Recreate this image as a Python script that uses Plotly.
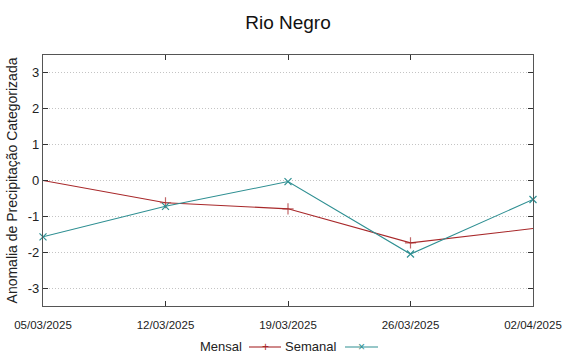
import plotly.graph_objects as go

dates = ["2025-03-05", "2025-03-12", "2025-03-19", "2025-03-26", "2025-04-02"]
mensal = [0.0, -0.62, -0.79, -1.74, -1.34]
semanal = [-1.57, -0.72, -0.03, -2.05, -0.53]
x_ticklabels = ["05/03/2025", "12/03/2025", "19/03/2025", "26/03/2025", "02/04/2025"]
y_tickvals = [-3, -2, -1, 0, 1, 2, 3]
y_ticktext = ["-3", "-2", "-1", "0", "1", "2", "3"]

RED = "#a8282a"
TEAL = "#2e8f92"
FONT = "Liberation Sans, Arial, sans-serif"

W, H = 567, 354
L, R, T, B = 43, 34, 55, 48
pw, ph = W - L - R, H - T - B
def px(x):
    return (x - L) / pw
def py(y):
    return (H - B - y) / ph

LEG_Y = 346

fig = go.Figure()
fig.add_trace(go.Scatter(
    x=dates, y=mensal, mode="lines+markers", name="Mensal",
    line=dict(color=RED, width=1.1),
    marker=dict(symbol="cross-thin", size=[0, 8, 8, 8, 0],
                line=dict(color=RED, width=1.2), color=RED),
    showlegend=False, cliponaxis=True, hoverinfo="skip"))
fig.add_trace(go.Scatter(
    x=dates, y=semanal, mode="lines+markers", name="Semanal",
    line=dict(color=TEAL, width=1.1),
    marker=dict(symbol="x-thin", size=7, line=dict(color=TEAL, width=1.2), color=TEAL),
    showlegend=False, cliponaxis=False, hoverinfo="skip"))

annotations = []
annotations.append(dict(x=px(244), y=py(LEG_Y), xref="paper", yref="paper", text="Mensal",
                        showarrow=False, xanchor="right", yanchor="middle",
                        font=dict(family=FONT, size=13, color="#222")))
annotations.append(dict(x=px(338), y=py(LEG_Y), xref="paper", yref="paper", text="Semanal",
                        showarrow=False, xanchor="right", yanchor="middle",
                        font=dict(family=FONT, size=13, color="#222")))
annotations.append(dict(x=px(265), y=py(LEG_Y + 1), xref="paper", yref="paper", text="+",
                        showarrow=False, xanchor="center", yanchor="middle",
                        font=dict(family=FONT, size=12, color=RED)))
annotations.append(dict(x=px(361), y=py(LEG_Y + 1), xref="paper", yref="paper", text="×",
                        showarrow=False, xanchor="center", yanchor="middle",
                        font=dict(family=FONT, size=12, color=TEAL)))

shapes = []
for (x0, x1, c) in [(249, 281, RED), (345, 378, TEAL)]:
    shapes.append(dict(type="line", xref="paper", yref="paper",
                       x0=px(x0), x1=px(x1), y0=py(LEG_Y + 1), y1=py(LEG_Y + 1),
                       line=dict(color=c, width=1.1)))

fig.update_layout(
    width=W, height=H,
    margin=dict(l=L, r=R, t=T, b=B, autoexpand=False),
    paper_bgcolor="white", plot_bgcolor="white",
    shapes=shapes, annotations=annotations,
    title=dict(text="Rio Negro", x=0.5, xref="paper", y=1 - 22 / H, yref="container",
               yanchor="middle",
               font=dict(family=FONT, size=19, color="#111")),
    font=dict(family=FONT, color="#222"),
    xaxis=dict(type="date", range=[dates[0], dates[-1]],
               tickvals=dates, ticktext=x_ticklabels, automargin=False,
               ticks="inside", ticklen=5, tickcolor="#333", mirror="ticks",
               showline=True, linecolor="#555", linewidth=1.2,
               showgrid=False, zeroline=False, ticklabelstandoff=8,
               tickfont=dict(family=FONT, size=11.5, color="#222")),
    yaxis=dict(range=[-3.5, 3.5], tickvals=y_tickvals, ticktext=y_ticktext,
               automargin=False,
               ticks="inside", ticklen=5, tickcolor="#333", mirror="ticks",
               showline=True, linecolor="#555", linewidth=1.2,
               showgrid=True, gridcolor="#c4c4c4", griddash="1px,2px", gridwidth=1,
               zeroline=False,
               tickfont=dict(family=FONT, size=13, color="#222"),
               title=dict(text="Anomalia de Precipitação Categorizada", standoff=6,
                          font=dict(family=FONT, size=14, color="#222"))),
)

fig.write_html("out.html", config={"displayModeBar": False, "staticPlot": True},
               post_script="document.body.style.margin='0';document.body.style.overflow='hidden';")
